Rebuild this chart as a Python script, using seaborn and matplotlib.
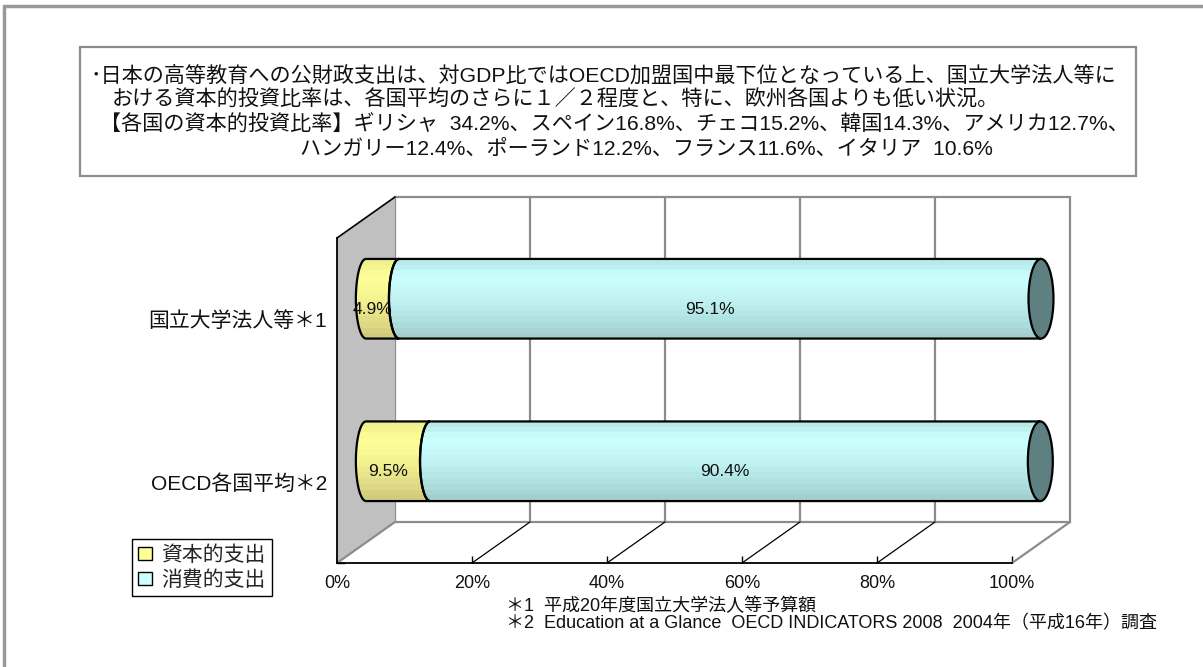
import numpy as np
import pandas as pd
import matplotlib
matplotlib.use("Agg")
import matplotlib.pyplot as plt
import matplotlib.transforms as mtransforms
from matplotlib.patches import Rectangle, Polygon, Ellipse, Patch
from matplotlib.lines import Line2D
from matplotlib.colors import LinearSegmentedColormap
import seaborn as sns

# data
categories = ["国立大学法人等＊1", "OECD各国平均＊2"]
capital = [4.9, 9.5]
consumption = [95.1, 90.4]
series_names = ["資本的支出", "消費的支出"]
xticks = [0, 20, 40, 60, 80, 100]
xtick_labels = ["0%", "20%", "40%", "60%", "80%", "100%"]

title_lines = [
    "･日本の高等教育への公財政支出は、対GDP比ではOECD加盟国中最下位となっている上、国立大学法人等に",
    "おける資本的投資比率は、各国平均のさらに１／２程度と、特に、欧州各国よりも低い状況。",
    "【各国の資本的投資比率】ギリシャ  34.2%、スペイン16.8%、チェコ15.2%、韓国14.3%、アメリカ12.7%、",
    "ハンガリー12.4%、ポーランド12.2%、フランス11.6%、イタリア  10.6%",
]
footnotes = [
    "＊1  平成20年度国立大学法人等予算額",
    "＊2  Education at a Glance  OECD INDICATORS 2008  2004年（平成16年）調査",
]

W, H = 1203, 667
DX, DY = 58, 41          # depth of the 3d box in pixels
RX, RX_CAP = 1.5, 1.85   # half width of the cylinder end ellipses (x units)

sns.set_theme(style="white")
plt.rcParams["font.family"] = ["Liberation Sans", "Noto Sans CJK JP"]

fig = plt.figure(figsize=(W / 100, H / 100), dpi=100)


def fx(x):
    return x / W


def fy(y):
    return 1 - y / H


# axes = front plane of the 3d box
ax = fig.add_axes([fx(337), fy(563), 675 / W, 325 / H])
ax.patch.set_visible(False)

df = pd.DataFrame({"category": categories, "capital": capital, "consumption": consumption})
df["total"] = df["capital"] + df["consumption"]

sns.barplot(data=df, x="total", y="category", color="#C4F4F4", width=0.49,
            errorbar=None, ax=ax)
sns.barplot(data=df, x="capital", y="category", color="#F4F494", width=0.49,
            errorbar=None, ax=ax)

ax.set_xlim(0, 100)
ax.set_ylim(1.5, -0.5)
ax.set_autoscale_on(False)
ax.set_xlabel("")
ax.set_ylabel("")

bar_tr = mtransforms.offset_copy(ax.transData, fig=fig, x=DX / 2, y=DY / 2, units="dots")
back_tr = mtransforms.offset_copy(ax.transData, fig=fig, x=DX, y=DY, units="dots")
label_tr = mtransforms.offset_copy(ax.transData, fig=fig, x=19, y=10, units="dots")


def back(x, y):
    px, py = ax.transData.transform((x, y))
    return ax.transData.inverted().transform((px + DX, py + DY))


y0, y1 = ax.get_ylim()[1], ax.get_ylim()[0]   # top (-0.5), bottom (1.5)
grid_gray = "#8C8C8C"

# back wall with gridlines
ax.add_patch(Rectangle((0, y0), 100, y1 - y0, transform=back_tr, facecolor="white",
                       edgecolor=grid_gray, lw=1.6, zorder=0.5, clip_on=False))
for x in xticks[1:-1]:
    ax.add_line(Line2D([x, x], [y0, y1], transform=back_tr, color=grid_gray,
                       lw=1.6, zorder=0.6, clip_on=False))

# left side wall
wall = [(0, y0), (0, y1), tuple(back(0, y1)), tuple(back(0, y0))]
ax.add_patch(Polygon(wall, closed=True, facecolor="#C0C0C0", edgecolor="none",
                     zorder=0.7, clip_on=False))
bx, by = back(0, y0)
ax.add_line(Line2D([0, bx], [y0, by], color="black", lw=1.2, zorder=0.8, clip_on=False))
bx, by = back(0, y1)
ax.add_line(Line2D([0, bx], [y1, by], color=grid_gray, lw=1.6, zorder=0.8, clip_on=False))

# floor lines
for x in xticks[1:]:
    bx, by = back(x, y1)
    ax.add_line(Line2D([x, bx], [y1, by], color="black" if x < 100 else grid_gray,
                       lw=0.9 if x < 100 else 1.6, zorder=0.8, clip_on=False))

# cylinders built from the seaborn bars
cyan_cmap = LinearSegmentedColormap.from_list(
    "cyl_c", ["#B8EAEA", "#CCFFFF", "#C6F8F8", "#BCEEEE", "#B0E0E0", "#A2CECE"])
yellow_cmap = LinearSegmentedColormap.from_list(
    "cyl_y", ["#F0F08C", "#FFFF99", "#F8F894", "#EEEC8E", "#E0DC86", "#D0CC7C"])
grad = np.linspace(0, 1, 14).reshape(-1, 1)

n = len(df)
t = np.linspace(-np.pi / 2, np.pi / 2, 40)
for i in range(n):
    tot = ax.patches[i]
    cap = ax.patches[n + i]
    hh = cap.get_height() / 2
    c = cap.get_y() + hh
    a0 = cap.get_x()
    a1 = a0 + cap.get_width()
    a2 = tot.get_x() + tot.get_width()
    segs = [(a0, a1, yellow_cmap, capital[i]), (a1, a2, cyan_cmap, consumption[i])]
    for a, b, cmap, val in segs:
        right = np.column_stack([b - RX * np.cos(t), c + hh * np.sin(t)])
        left = np.column_stack([a - RX * np.cos(t[::-1]), c + hh * np.sin(t[::-1])])
        shape = Polygon(np.vstack([right, left]), closed=True, transform=bar_tr,
                        facecolor="none", edgecolor="black", lw=1.6, zorder=4,
                        clip_on=False)
        ax.add_patch(shape)
        im = ax.imshow(grad, cmap=cmap, extent=(a - RX, b, c + hh, c - hh),
                       aspect="auto", interpolation="nearest", zorder=3)
        im.set_transform(bar_tr)
        im.set_clip_box(fig.bbox)
        im.set_clip_path(shape)
        ax.text((a + b) / 2, c, f"{val:.1f}%", transform=label_tr, ha="center",
                va="center", fontsize=12.5, color="#111111", zorder=6)
    ax.add_patch(Ellipse((a2, c), 2 * RX_CAP, 2 * hh, transform=bar_tr,
                         facecolor="#5F8080", edgecolor="black", lw=1.6, zorder=5,
                         clip_on=False))
    tot.set_visible(False)
    cap.set_visible(False)

# axes styling
for side in ["top", "right"]:
    ax.spines[side].set_visible(False)
for side in ["left", "bottom"]:
    ax.spines[side].set_color("black")
    ax.spines[side].set_linewidth(1.3)
    ax.spines[side].set_zorder(0.9)
ax.set_xticks(xticks, xtick_labels)
ax.tick_params(axis="x", bottom=True, direction="in", length=5, width=1,
               color="black", pad=9, labelsize=13, labelcolor="#111111")
ax.tick_params(axis="y", which="major", left=False, length=0, pad=7, labelsize=15,
               labelcolor="#111111")
ax.set_yticks([-0.5, 0.5, 1.5], minor=True)
ax.tick_params(axis="y", which="minor", left=True, direction="in", length=6,
               width=1, color="black")

# text box
fig.add_artist(Rectangle((fx(80), fy(176)), fx(1136) - fx(80), fy(47) - fy(176),
                         transform=fig.transFigure, facecolor="white",
                         edgecolor="#8C8C8C", lw=1.6, zorder=0))
line_pos = [(90, 76), (112, 100), (100, 125), (300, 150)]
for (x, y), line in zip(line_pos, title_lines):
    fig.text(fx(x), fy(y), line, ha="left", va="center", fontsize=15.2, color="#111111")

# legend
handles = [Patch(facecolor="#FFFF99", edgecolor="black", lw=1),
           Patch(facecolor="#CCFFFF", edgecolor="black", lw=1)]
fig.legend(handles, series_names, loc="upper left", bbox_to_anchor=(fx(132), fy(539)),
           frameon=True, fancybox=False, edgecolor="black", framealpha=1,
           borderpad=0.3, borderaxespad=0, handlelength=0.65, handleheight=0.65,
           handletextpad=0.45, labelspacing=0.25, fontsize=15)

# footnotes
for y, note in zip([606, 624], footnotes):
    fig.text(fx(506), fy(y), note, ha="left", va="center", fontsize=13, color="#111111")

# outer frame (only the top and left edges fall inside the picture)
fig.add_artist(Line2D([fx(4), fx(4)], [fy(6), 0], transform=fig.transFigure,
                      color="#999999", lw=2.5))
fig.add_artist(Line2D([fx(4), 1], [fy(6), fy(6)], transform=fig.transFigure,
                      color="#999999", lw=2.5))

fig.savefig("out.png", dpi=100)
